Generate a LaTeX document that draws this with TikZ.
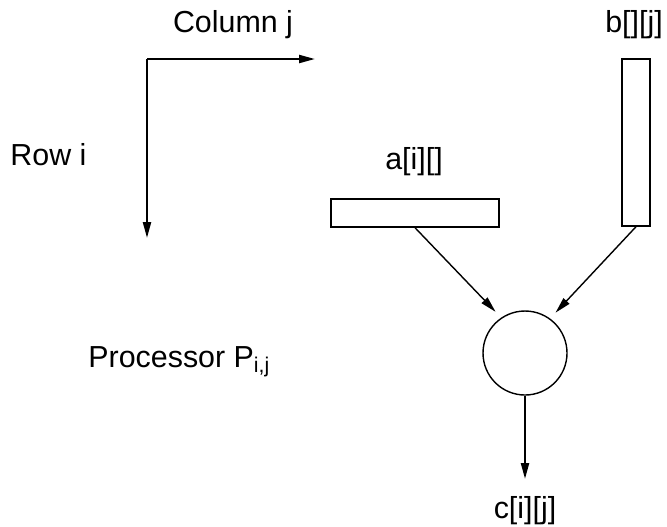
\documentclass[tikz,border=0pt]{standalone}
\usepackage{fontspec}
\setmainfont{Liberation Sans}
\usepackage{tikz}
\usetikzlibrary{arrows.meta,positioning,shapes}
\tikzset{
>={Triangle[length=8pt,width=4pt]},
  achse/.style={draw, line width=1.1pt, ->},
  line/.style={draw, line width=0.7pt, ->, shorten >=4pt},
  vektor/.style={
    rectangle,
    draw=black, line width=0.7pt,
    inner sep=0pt},
  prozessor/.style={
    circle,
    draw=black, line width=0.7pt,
    minimum size=42pt,
    inner sep=0pt},
  tafel/.style={font=\fontsize{15.2}{18}\selectfont, inner sep=0pt},
}

\begin{document}
\begin{tikzpicture}[x=0.5pt, y=-0.5pt]

		\useasboundingbox (0,0) rectangle (667,526);

		\coordinate (ecke) at (147,59);
		\coordinate (spaltende) at (315,59);
		\coordinate (zeilende) at (147,238);
		\draw[achse] (ecke) -- (spaltende);
		\draw[achse] (ecke) -- (zeilende);

		\node[tafel, anchor=base] (spalte) at (233,32) {Column j};
		\node[tafel, anchor=base west] (zeile) at (10,165) {Row i};
		\node[tafel, anchor=base west] (proztext) at (88,367) {Processor P\textsubscript{i,j}};

		\node[vektor, minimum width=84pt, minimum height=14pt] (avek) at (415,213) {};
		\node[vektor, minimum width=14pt, minimum height=83.5pt] (bvek) at (636,142.5) {};
		\node[tafel, anchor=base] (atext) at (414,169) {a[i][]};
		\node[tafel, anchor=base] (btext) at (634,32) {b[][j]};

		\node[prozessor] (pij) at (525,353) {};
		\draw[line] (avek.south) -- (pij.124);
		\draw[line] (bvek.south) -- (pij.54);

		\coordinate (cende) at (525,479);
		\draw[achse] (pij.south) -- (cende);
		\node[tafel, anchor=base] (ctext) at (525,518) {c[i][j]};

	\end{tikzpicture}
\end{document}
